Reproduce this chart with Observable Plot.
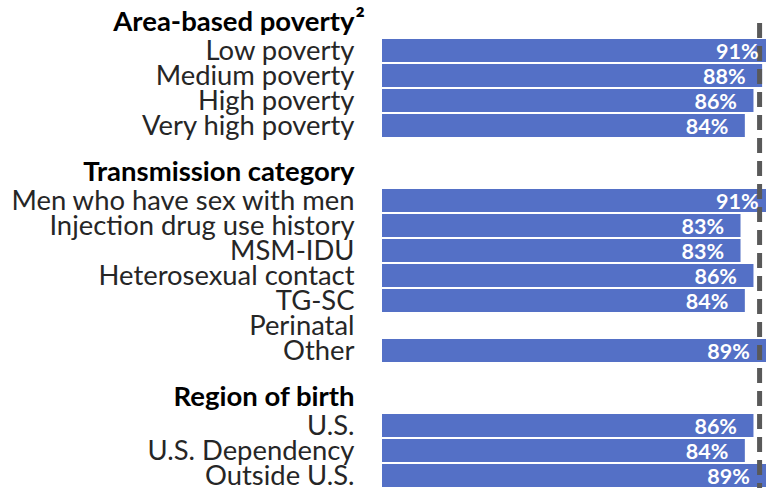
<!DOCTYPE html>
<html>
<head>
<meta charset="utf-8">
<script src="https://cdn.jsdelivr.net/npm/d3@7"></script>
<script src="https://cdn.jsdelivr.net/npm/@observablehq/plot@0.6"></script>
<style>
  html, body { margin: 0; padding: 0; background: #fff; overflow: hidden; }
  #chart svg { display: block; overflow: hidden; }
</style>
</head>
<body>
<div id="chart"></div>
<script>
// ---- data ----
const groups = ["Area-based poverty", "Transmission category", "Region of birth"];
const povertyLabels = ["Low poverty", "Medium poverty", "High poverty", "Very high poverty"];
const povertyValues = [91, 88, 86, 84];
const transmissionLabels = ["Men who have sex with men", "Injection drug use history", "MSM-IDU", "Heterosexual contact", "TG-SC", "Perinatal", "Other"];
const transmissionValues = [91, 83, 83, 86, 84, null, 89];
const birthLabels = ["U.S.", "U.S. Dependency", "Outside U.S."];
const birthValues = [86, 84, 89];
const headerNotes = ["²", "", ""];
const referenceValue = 87.3;
const xMax = 88.9;

// ---- build rows ----
const rows = [];
const sections = [
  [groups[0], povertyLabels, povertyValues, headerNotes[0]],
  [groups[1], transmissionLabels, transmissionValues, headerNotes[1]],
  [groups[2], birthLabels, birthValues, headerNotes[2]]
];
sections.forEach(([g, labels, values, note], i) => {
  rows.push({key: "h" + i, label: g, header: true, note});
  labels.forEach((l, j) => rows.push({key: l, label: l, value: values[j], header: false}));
  if (i < sections.length - 1) rows.push({key: "blank" + i, label: "", header: false, blank: true});
});
const domain = rows.map(d => d.key);
const items = rows.filter(d => !d.header && !d.blank);
const bars = items.filter(d => d.value != null);
const headers = rows.filter(d => d.header);

const font = "Lato, 'Open Sans', sans-serif";

const chart = Plot.plot({
  width: 766,
  height: 488,
  marginLeft: 382,
  marginRight: 0,
  marginTop: 11,
  marginBottom: -2,
  style: {fontFamily: font, background: "#fff", overflow: "hidden"},
  x: {domain: [0, xMax], axis: null},
  y: {domain, axis: null, padding: 0.1, paddingOuter: 0, align: 0.5},
  marks: [
    Plot.barX(bars, {x: "value", y: "key", fill: "#5470c6"}),
    Plot.ruleX([referenceValue], {stroke: "#595959", strokeWidth: 5, strokeDasharray: "15,8", insetTop: 12}),
    Plot.text(bars, {
      x: "value", y: "key", text: d => d.value + "%",
      textAnchor: "end", dx: -17, dy: 1, fill: "#fff",
      fontWeight: "bold", fontSize: 21.5
    }),
    Plot.text(items, {
      y: "key", text: "label", frameAnchor: "left", dx: -28,
      textAnchor: "end", fill: "#262626", fontSize: 27.4
    }),
    Plot.text(headers, {
      y: "key", text: "label", frameAnchor: "left", dx: -28, dy: -4,
      textAnchor: "end", fill: "#000", fontSize: 27.5, fontWeight: "bold"
    }),
    Plot.text(headers.filter(d => d.note), {
      y: "key", text: "note", frameAnchor: "left", dx: -27, dy: -5,
      textAnchor: "start", fill: "#000", fontSize: 28, fontWeight: "bold"
    })
  ]
});
document.getElementById("chart").appendChild(chart);
</script>
</body>
</html>
